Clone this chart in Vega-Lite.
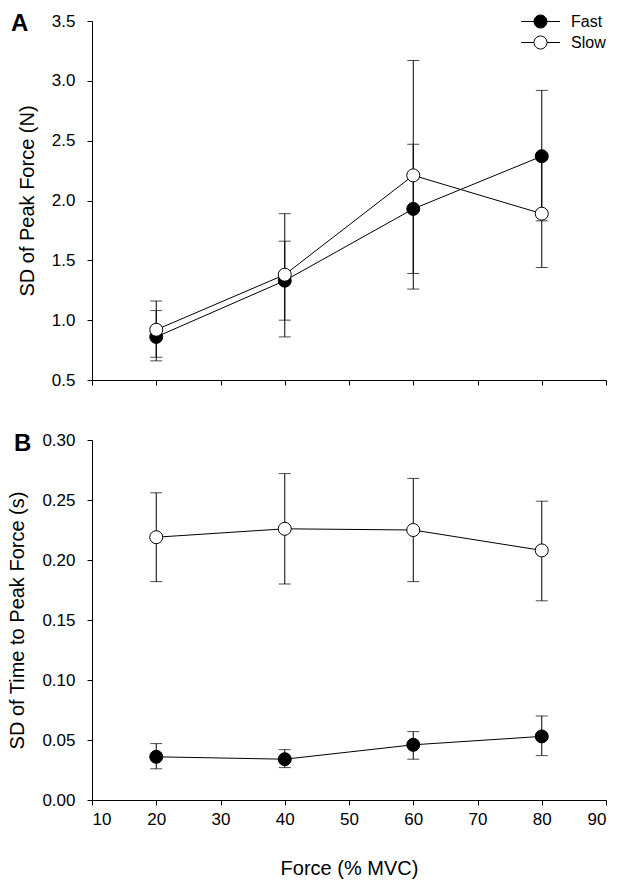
{
  "$schema": "https://vega.github.io/schema/vega-lite/v6.json",
  "padding": {"left": 7, "top": 11, "right": 5, "bottom": 5},
  "spacing": 43,
  "background": "white",
  "config": {
    "font": "Liberation Sans",
    "view": {"stroke": null},
    "axis": {
      "grid": false,
      "domainColor": "black",
      "tickColor": "black",
      "labelColor": "black",
      "titleColor": "black",
      "labelFont": "Liberation Sans",
      "titleFont": "Liberation Sans",
      "labelFontSize": 17,
      "titleFontSize": 20,
      "titleFontWeight": "normal",
      "tickSize": 5,
      "domainWidth": 1,
      "tickWidth": 1
    },
    "axisY": {"labelPadding": 12, "titlePadding": 14},
    "axisX": {"labelPadding": 6, "titlePadding": 31}
  },
  "resolve": {"scale": {"fill": "independent"}, "legend": {"fill": "independent"}},
  "datasets": {
    "a": [
      {"series": "Fast", "force": 20, "sd": 0.86, "lo": 0.66, "hi": 1.08},
      {"series": "Fast", "force": 40, "sd": 1.33, "lo": 1.00, "hi": 1.66},
      {"series": "Fast", "force": 60, "sd": 1.93, "lo": 1.39, "hi": 2.47},
      {"series": "Fast", "force": 80, "sd": 2.37, "lo": 1.83, "hi": 2.92},
      {"series": "Slow", "force": 20, "sd": 0.92, "lo": 0.69, "hi": 1.16},
      {"series": "Slow", "force": 40, "sd": 1.38, "lo": 0.86, "hi": 1.89},
      {"series": "Slow", "force": 60, "sd": 2.21, "lo": 1.26, "hi": 3.17},
      {"series": "Slow", "force": 80, "sd": 1.89, "lo": 1.44, "hi": 2.34}
    ],
    "b": [
      {"series": "Fast", "force": 20, "sd": 0.036, "lo": 0.026, "hi": 0.047},
      {"series": "Fast", "force": 40, "sd": 0.034, "lo": 0.027, "hi": 0.042},
      {"series": "Fast", "force": 60, "sd": 0.046, "lo": 0.034, "hi": 0.057},
      {"series": "Fast", "force": 80, "sd": 0.053, "lo": 0.037, "hi": 0.070},
      {"series": "Slow", "force": 20, "sd": 0.219, "lo": 0.182, "hi": 0.256},
      {"series": "Slow", "force": 40, "sd": 0.226, "lo": 0.180, "hi": 0.272},
      {"series": "Slow", "force": 60, "sd": 0.225, "lo": 0.182, "hi": 0.268},
      {"series": "Slow", "force": 80, "sd": 0.208, "lo": 0.166, "hi": 0.249}
    ]
  },
  "vconcat": [
    {
      "width": 514,
      "height": 359,
      "data": {"name": "a"},
      "title": {"text": "A", "anchor": "start", "frame": "group", "fontSize": 24, "fontWeight": "bold", "font": "Liberation Sans", "color": "black", "dx": -81, "offset": -25},
      "encoding": {
        "x": {"field": "force", "type": "quantitative", "scale": {"domain": [10, 90], "nice": false}, "axis": {"values": [10, 20, 30, 40, 50, 60, 70, 80, 90], "labels": false, "title": null}}
      },
      "layer": [
        {
          "mark": {"type": "line", "color": "black", "strokeWidth": 1},
          "encoding": {
            "y": {"field": "sd", "type": "quantitative", "title": "SD of Peak Force (N)", "scale": {"domain": [0.5, 3.5], "nice": false, "zero": false}, "axis": {"values": [0.5, 1, 1.5, 2, 2.5, 3, 3.5], "format": ".1f"}},
            "detail": {"field": "series"}
          }
        },
        {
          "mark": {"type": "errorbar", "color": "black", "ticks": {"size": 12, "thickness": 1, "color": "black"}, "thickness": 1},
          "encoding": {
            "y": {"field": "lo", "type": "quantitative", "title": "SD of Peak Force (N)"},
            "y2": {"field": "hi"}
          }
        },
        {
          "mark": {"type": "point", "shape": "circle", "size": 169, "opacity": 1, "filled": true, "stroke": "black", "strokeWidth": 1},
          "encoding": {
            "y": {"field": "sd", "type": "quantitative", "title": "SD of Peak Force (N)"},
            "fill": {
              "field": "series", "type": "nominal",
              "scale": {"domain": ["Fast", "Slow"], "range": ["black", "white"]},
              "legend": {
                "title": null, "orient": "none", "legendX": 438, "legendY": -10,
                "symbolType": "M-2,0H-0.667A0.667,0.667 0 1 1 0.667,0H2M0.667,0A0.667,0.667 0 1 1 -0.667,0",
                "symbolSize": 380, "symbolStrokeColor": "black", "symbolStrokeWidth": 1, "symbolOpacity": 1,
                "labelFontSize": 16, "labelFont": "Liberation Sans", "labelColor": "black", "labelOffset": 20, "rowPadding": 1, "padding": 0
              }
            }
          }
        }
      ]
    },
    {
      "width": 514,
      "height": 360,
      "data": {"name": "b"},
      "title": {"text": "B", "anchor": "start", "frame": "group", "fontSize": 24, "fontWeight": "bold", "font": "Liberation Sans", "color": "black", "dx": -78, "offset": -25},
      "encoding": {
        "x": {"field": "force", "type": "quantitative", "scale": {"domain": [10, 90], "nice": false}, "axis": {"values": [10, 20, 30, 40, 50, 60, 70, 80, 90], "title": "Force (% MVC)"}}
      },
      "layer": [
        {
          "mark": {"type": "line", "color": "black", "strokeWidth": 1},
          "encoding": {
            "y": {"field": "sd", "type": "quantitative", "title": "SD of Time to Peak Force (s)", "scale": {"domain": [0, 0.3], "nice": false}, "axis": {"values": [0, 0.05, 0.1, 0.15, 0.2, 0.25, 0.3], "format": ".2f"}},
            "detail": {"field": "series"}
          }
        },
        {
          "mark": {"type": "errorbar", "color": "black", "ticks": {"size": 12, "thickness": 1, "color": "black"}, "thickness": 1},
          "encoding": {
            "y": {"field": "lo", "type": "quantitative", "title": "SD of Time to Peak Force (s)"},
            "y2": {"field": "hi"}
          }
        },
        {
          "mark": {"type": "point", "shape": "circle", "size": 169, "opacity": 1, "filled": true, "stroke": "black", "strokeWidth": 1},
          "encoding": {
            "y": {"field": "sd", "type": "quantitative", "title": "SD of Time to Peak Force (s)"},
            "fill": {
              "field": "series", "type": "nominal",
              "scale": {"domain": ["Fast", "Slow"], "range": ["black", "white"]},
              "legend": null
            }
          }
        }
      ]
    }
  ]
}
